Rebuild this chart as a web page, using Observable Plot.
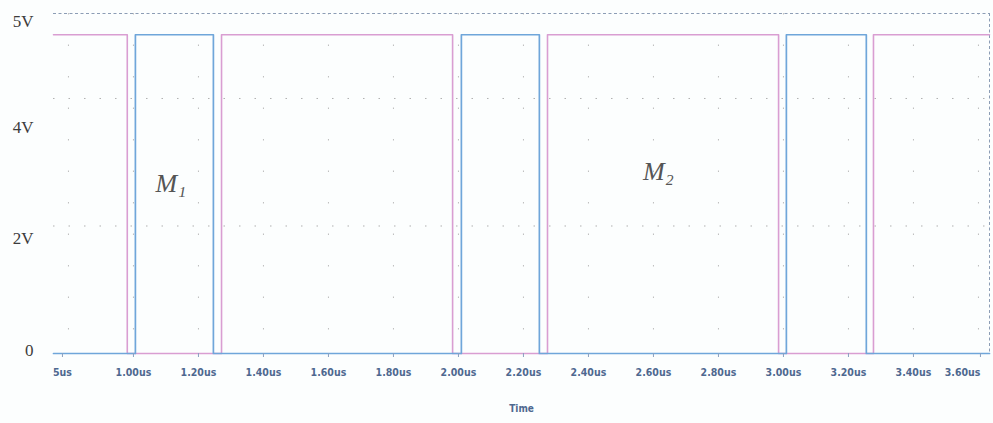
<!DOCTYPE html>
<html><head><meta charset="utf-8">
<script src="https://cdn.jsdelivr.net/npm/d3@7"></script>
<script src="https://cdn.jsdelivr.net/npm/@observablehq/plot@0.6"></script>
<style>body{margin:0;background:#fcfefe;} #chart svg{display:block;}</style>
</head><body><div id="chart"></div>
<script>
// Time window (µs) and top of the voltage window (V)
const timeStart = 0.754;
const timeEnd = 3.634;
const voltMax = 5.333;

// Pink waveform (step-after): transition times in µs and levels in V
const pinkTimes = [0.754, 0.981, 1.271, 1.982, 2.274, 2.985, 3.277, 3.634];
const pinkVolts = [5, 0, 5, 0, 5, 0, 5, 5];

// Blue waveform
const blueTimes = [0.754, 1.006, 1.246, 2.009, 2.249, 3.009, 3.255, 3.634];
const blueVolts = [0, 5, 0, 5, 0, 5, 0, 0];

// Axis ticks
const xTickValues = [0.8, 1.0, 1.2, 1.4, 1.6, 1.8, 2.0, 2.2, 2.4, 2.6, 2.8, 3.0, 3.2, 3.4, 3.6];
const xTickLabels = ["5us", "1.00us", "1.20us", "1.40us", "1.60us", "1.80us", "2.00us", "2.20us", "2.40us", "2.60us", "2.80us", "3.00us", "3.20us", "3.40us", "3.60us"];
const yTickValues = [0.05, 1.8, 3.55, 5.21];
const yTickLabels = ["0", "2V", "4V", "5V"];
const gridVolts = [2, 4];
const xAxisTitle = "Time";

// Annotations
const noteLabels = ["M\u2081", "M\u2082"];
const noteTimes = [1.115, 2.615];
const noteVolts = [2.67, 2.85];

const pink = pinkTimes.map((t, i) => ({t, v: pinkVolts[i]}));
const blue = blueTimes.map((t, i) => ({t, v: blueVolts[i]}));
const notes = noteLabels.map((label, i) => ({label, t: noteTimes[i], v: noteVolts[i]}));
const xFmt = d => xTickLabels[xTickValues.indexOf(d)];
const yFmt = d => yTickLabels[yTickValues.indexOf(d)];

const tickFont = {fontFamily: "DejaVu Sans Condensed, DejaVu Sans", fontWeight: "bold", fontSize: 10.5, fill: "#4e6890"};

const chart = Plot.plot({
  width: 993,
  height: 423,
  marginLeft: 53,
  marginRight: 4,
  marginTop: 13,
  marginBottom: 70,
  style: {background: "transparent", overflow: "visible"},
  x: {domain: [timeStart, timeEnd]},
  y: {domain: [0, voltMax]},
  marks: [
    Plot.ruleY(gridVolts, {stroke: "#b0b0b0", strokeDasharray: "1.5,14"}),
    Plot.ruleX(xTickValues, {stroke: "#bdbdbd", strokeDasharray: "1.5,30"}),
    Plot.ruleY([voltMax], {stroke: "#8c9db5", strokeDasharray: "3,2.5"}),
    Plot.ruleX([timeEnd], {stroke: "#8c9db5", strokeDasharray: "3,2.5"}),
    Plot.line(pink, {x: "t", y: "v", curve: "step-after", stroke: "#d99ed2", strokeWidth: 1.6}),
    Plot.line(blue, {x: "t", y: "v", curve: "step-after", stroke: "#6fa6da", strokeWidth: 1.7}),
    Plot.axisX(xTickValues.slice(1, -1), {tickSize: 4, tickPadding: 11, stroke: "#8aa0c0", tickFormat: xFmt, label: null, ...tickFont}),
    Plot.axisX([xTickValues[0]], {tickSize: 4, tickPadding: 11, stroke: "#8aa0c0", tickFormat: xFmt, label: null, dx: -6, ...tickFont}),
    Plot.axisX([xTickValues[xTickValues.length - 1]], {tickSize: 4, tickPadding: 11, stroke: "#8aa0c0", tickFormat: xFmt, label: null, textAnchor: "end", dx: 2, ...tickFont}),
    Plot.text([xAxisTitle], {frameAnchor: "bottom", dy: 58, ...tickFont, fontSize: 10}),
    Plot.axisY(yTickValues, {tickSize: 0, tickPadding: 20, tickFormat: yFmt, label: null, fontFamily: "Liberation Serif", fontSize: 17, fill: "#3c3c3c"}),
    Plot.text(notes, {x: "t", y: "v", text: "label", fontFamily: "Liberation Serif", fontStyle: "italic", fontSize: 26, fill: "#555"})
  ]
});
document.getElementById("chart").append(chart);
</script>
</body></html>
